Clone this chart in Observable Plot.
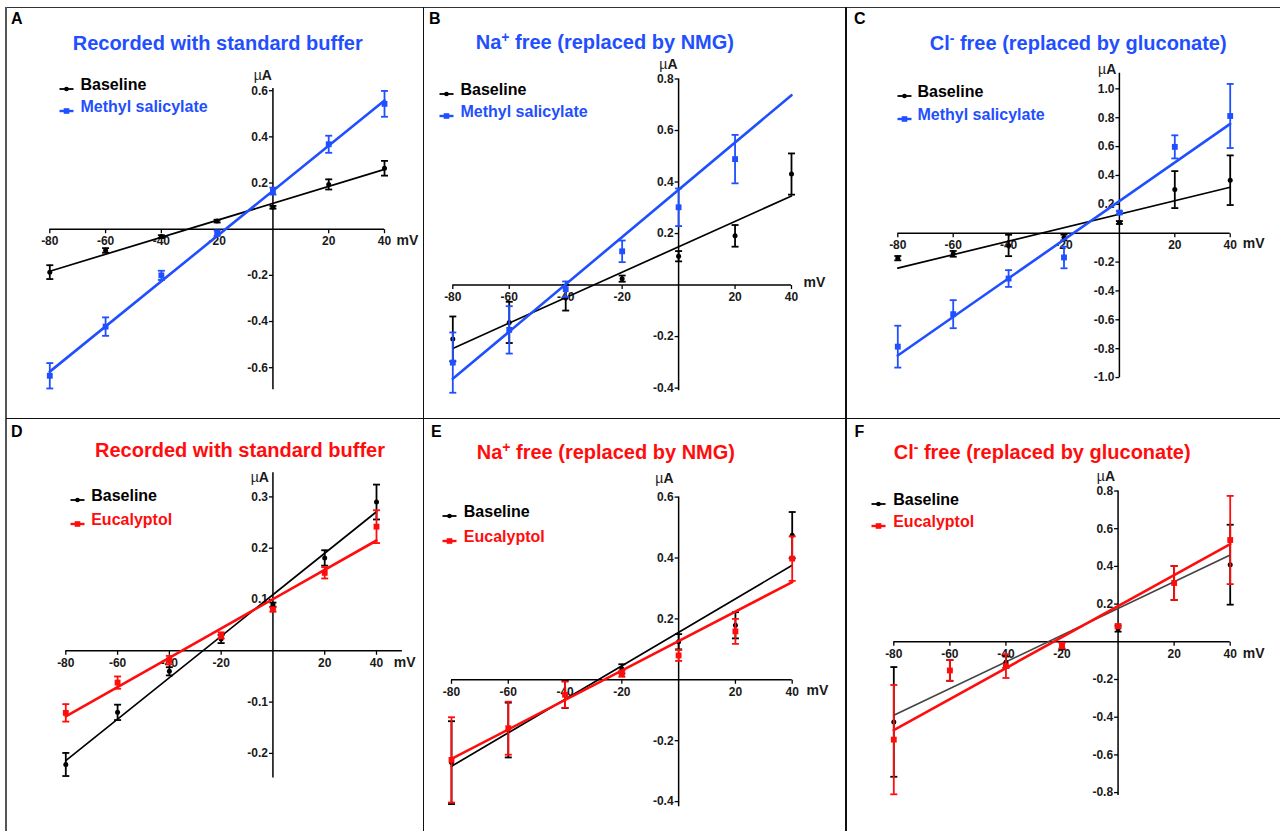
<!DOCTYPE html>
<html><head><meta charset="utf-8">
<script src="https://cdn.jsdelivr.net/npm/d3@7"></script>
<script src="https://cdn.jsdelivr.net/npm/@observablehq/plot@0.6"></script>
<style>
body{margin:0;background:#fff;}
#fig{position:relative;width:1280px;height:831px;overflow:hidden;font-family:"Liberation Sans",Arial,Helvetica,sans-serif;background:#fff;}
.abs{position:absolute;}
.title{font-size:20px;font-weight:bold;line-height:1;white-space:nowrap;transform:translateY(-50%);}
.title sup{font-size:70%;vertical-align:0.5em;line-height:0;}
.letter{font-size:16px;font-weight:bold;line-height:1;transform:translateY(-50%);color:#000;}
.leg{font-size:16px;font-weight:bold;line-height:1;white-space:nowrap;transform:translateY(-50%);}
.panel svg{display:block;}
</style></head><body><div id="fig"></div><script>
// ---------------- data ----------------
const voltages = [-80, -60, -40, -20, 0, 20, 40];
const fitVoltages = [-80, 40];
const xTickValues = [-80, -60, -40, -20, 20, 40];
const seriesNames = ["Baseline", "Methyl salicylate", "Eucalyptol"];
const panelLetters = ["A", "B", "C", "D", "E", "F"];
const panelTitles = [
  "Recorded with standard buffer",
  "Na<sup>+</sup> free (replaced by NMG)",
  "Cl<sup>-</sup> free (replaced by gluconate)",
  "Recorded with standard buffer",
  "Na<sup>+</sup> free (replaced by NMG)",
  "Cl<sup>-</sup> free (replaced by gluconate)"
];

// Panel A
const aBaselineMean = [-0.186, -0.092, -0.032, 0.035, 0.095, 0.194, 0.264];
const aBaselineSem  = [0.030, 0.010, 0.006, 0.006, 0.006, 0.022, 0.032];
const aBaselineFit  = [-0.182, 0.259];
const aMethylMean   = [-0.635, -0.422, -0.200, -0.017, 0.165, 0.368, 0.543];
const aMethylSem    = [0.055, 0.040, 0.020, 0.012, 0.015, 0.037, 0.056];
const aMethylFit    = [-0.617, 0.558];
const aYTicks = [-0.6, -0.4, -0.2, 0.2, 0.4, 0.6];

// Panel B
const bBaselineMean = [-0.209, -0.145, -0.049, 0.025, 0.112, 0.191, 0.431];
const bBaselineSem  = [0.087, 0.080, 0.050, 0.012, 0.020, 0.042, 0.080];
const bBaselineFit  = [-0.246, 0.346];
const bMethylMean   = [-0.301, -0.174, -0.016, 0.131, 0.302, 0.489, null];
const bMethylSem    = [0.117, 0.092, 0.030, 0.042, 0.073, 0.094, null];
const bMethylFit    = [-0.364, 0.737];
const bYTicks = [-0.4, -0.2, 0.2, 0.4, 0.6, 0.8];

// Panel C
const cBaselineMean = [-0.173, -0.143, -0.085, -0.030, 0.074, 0.302, 0.367];
const cBaselineSem  = [0.015, 0.020, 0.074, 0.020, 0.010, 0.128, 0.172];
const cBaselineFit  = [-0.242, 0.318];
const cMethylMean   = [-0.786, -0.561, -0.314, -0.168, 0.143, 0.598, 0.812];
const cMethylSem    = [0.145, 0.097, 0.058, 0.075, 0.010, 0.080, 0.222];
const cMethylFit    = [-0.847, 0.757];
const cYTicks = [-1.0, -0.8, -0.6, -0.4, -0.2, 0.2, 0.4, 0.6, 0.8, 1.0];

// Panel D
const dBaselineMean = [-0.2216, -0.120, -0.040, 0.023, 0.090, 0.181, 0.290];
const dBaselineSem  = [0.0225, 0.015, 0.008, 0.008, 0.004, 0.015, 0.034];
const dBaselineFit  = [-0.214, 0.271];
const dEucalMean    = [-0.121, -0.062, -0.018, 0.030, 0.0805, 0.152, 0.242];
const dEucalSem     = [0.017, 0.012, 0.008, 0.006, 0.004, 0.011, 0.032];
const dEucalFit     = [-0.128, 0.215];
const dYTicks = [-0.2, -0.1, 0.1, 0.2, 0.3];

// Panel E
const eBaselineMean = [-0.272, -0.165, -0.048, 0.036, 0.125, 0.179, 0.475];
const eBaselineSem  = [0.136, 0.090, 0.045, 0.015, 0.025, 0.043, 0.076];
const eBaselineFit  = [-0.284, 0.376];
const eEucalMean    = [-0.263, -0.159, -0.049, 0.020, 0.080, 0.159, 0.398];
const eEucalSem     = [0.140, 0.087, 0.043, 0.010, 0.018, 0.041, 0.073];
const eEucalFit     = [-0.260, 0.321];
const eYTicks = [-0.4, -0.2, 0.2, 0.4, 0.6];

// Panel F
const fBaselineMean = [-0.425, -0.152, -0.108, -0.020, 0.069, 0.312, 0.409];
const fBaselineSem  = [0.291, 0.055, 0.030, 0.020, 0.015, 0.090, 0.212];
const fBaselineFit  = [-0.390, 0.460];
const fEucalMean    = [-0.519, -0.152, -0.129, -0.020, 0.083, 0.312, 0.540];
const fEucalSem     = [0.290, 0.055, 0.063, 0.015, 0.010, 0.090, 0.234];
const fEucalFit     = [-0.468, 0.518];
const fYTicks = [-0.8, -0.6, -0.4, -0.2, 0.2, 0.4, 0.6, 0.8];

// ---------------- styles / layout ----------------
const BLUE = "#1f4fff", RED = "#ff0d0d", BLACK = "#000";
const FONT = "'Liberation Sans', Arial, Helvetica, sans-serif";

const panels = [
  {letter: 0, title: 0, left: 6, top: 7, width: 420, height: 410, mL: 43.3, mR: 42, mT: 83.2, mB: 49.8,
   yDomain: [-0.6, 0.6], yAxis: [-0.695, 0.61], xEnd: 40, yTicks: aYTicks,
   base: [aBaselineMean, aBaselineSem, aBaselineFit], treat: [aMethylMean, aMethylSem, aMethylFit], treatName: 1, color: BLUE, baseLine: BLACK,
   titleX: 72.7, titleY: 42.7, letterX: 11, letterY: 18.8, legX: 59, legTextX: 80.5, legY: [85, 106.7],
   mV: [12, 11], unit: [-1, -13]},
  {letter: 1, title: 1, left: 424, top: 7, width: 420, height: 410, mL: 28.3, mR: 53, mT: 71.5, mB: 29.4,
   yDomain: [-0.4, 0.8], yAxis: [-0.41, 0.8], xEnd: 40, yTicks: bYTicks,
   base: [bBaselineMean, bBaselineSem, bBaselineFit], treat: [bMethylMean, bMethylSem, bMethylFit], treatName: 1, color: BLUE, baseLine: BLACK,
   titleX: 475.7, titleY: 41.7, letterX: 429, letterY: 18.5, legX: 439, legTextX: 460.5, legY: [90, 112.3],
   mV: [12, -2.7], unit: [-1, -14.4]},
  {letter: 2, title: 2, left: 847, top: 7, width: 433, height: 410, mL: 50.3, mR: 50.3, mT: 81.35, mB: 39.95,
   yDomain: [-1, 1], yAxis: [-1.0, 1.108], xEnd: 40, yTicks: cYTicks,
   base: [cBaselineMean, cBaselineSem, cBaselineFit], treat: [cMethylMean, cMethylSem, cMethylFit], treatName: 1, color: BLUE, baseLine: BLACK,
   titleX: 929.7, titleY: 43.3, letterX: 854, letterY: 19, legX: 897, legTextX: 917.5, legY: [92.3, 115.3],
   mV: [12.6, 10.6], unit: [-3, -3.4]},
  {letter: 3, title: 3, left: 6, top: 419, width: 420, height: 410, mL: 59.3, mR: 50, mT: 77.4, mB: 76.1,
   yDomain: [-0.2, 0.3], yAxis: [-0.248, 0.347], xEnd: 50, yTicks: dYTicks,
   base: [dBaselineMean, dBaselineSem, dBaselineFit], treat: [dEucalMean, dEucalSem, dEucalFit], treatName: 2, color: RED, baseLine: BLACK,
   titleX: 95, titleY: 450, letterX: 11, letterY: 432.3, legX: 70, legTextX: 91.2, legY: [496, 520.3],
   mV: [17.3, 12], unit: [-4, 4.4]},
  {letter: 4, title: 4, left: 424, top: 419, width: 420, height: 410, mL: 27, mR: 52.3, mT: 77.6, mB: 27.9,
   yDomain: [-0.4, 0.6], yAxis: [-0.417, 0.6], xEnd: 40, yTicks: eYTicks,
   base: [eBaselineMean, eBaselineSem, eBaselineFit], treat: [eEucalMean, eEucalSem, eEucalFit], treatName: 2, color: RED, baseLine: BLACK,
   titleX: 476.7, titleY: 452.3, letterX: 431, letterY: 432.3, legX: 442.3, legTextX: 463.8, legY: [512, 537],
   mV: [14.3, 10.7], unit: [-5, -18.3]},
  {letter: 5, title: 5, left: 847, top: 419, width: 433, height: 410, mL: 46.3, mR: 50.3, mT: 71.5, mB: 36.9,
   yDomain: [-0.8, 0.8], yAxis: [-0.815, 0.8], xEnd: 40, yTicks: fYTicks,
   base: [fBaselineMean, fBaselineSem, fBaselineFit], treat: [fEucalMean, fEucalSem, fEucalFit], treatName: 2, color: RED, baseLine: "#444",
   titleX: 893.7, titleY: 452.3, letterX: 854.5, letterY: 432, legX: 871.3, legTextX: 893.2, legY: [500.3, 521.7],
   mV: [12.6, 11.3], unit: [-3, -14.7]}
];

// custom line symbols
const tickDown = {draw(ctx) { ctx.moveTo(0, 0); ctx.lineTo(0, 4); }};
const tickLeft = {draw(ctx) { ctx.moveTo(0, 0); ctx.lineTo(-4, 0); }};
const capSym = {draw(ctx) { ctx.moveTo(-3.5, 0); ctx.lineTo(3.5, 0); }};

function rows(mean, sem) {
  return voltages.map((v, i) => ({v, m: mean[i], e: sem[i]})).filter(d => d.m != null);
}
function fitRows(fit) { return fitVoltages.map((v, i) => ({v, m: fit[i]})); }

function seriesMarks(mean, sem, fit, color, lineColor, lineWidth, symbol, r) {
  const data = rows(mean, sem);
  return [
    Plot.line(fitRows(fit), {x: "v", y: "m", stroke: lineColor, strokeWidth: lineWidth}),
    Plot.ruleX(data, {x: "v", y1: d => d.m - d.e, y2: d => d.m + d.e, stroke: color, strokeWidth: 1.8}),
    Plot.dot(data, {x: "v", y: d => d.m + d.e, symbol: capSym, stroke: color, fill: "none", strokeWidth: 1.8}),
    Plot.dot(data, {x: "v", y: d => d.m - d.e, symbol: capSym, stroke: color, fill: "none", strokeWidth: 1.8}),
    Plot.dot(data, {x: "v", y: "m", symbol, r, fill: color, stroke: "none"})
  ];
}

const fig = document.getElementById("fig");
function addDiv(cls, style, html) {
  const d = document.createElement("div");
  d.className = cls;
  Object.assign(d.style, style);
  if (html != null) d.innerHTML = html;
  fig.appendChild(d);
  return d;
}

for (const p of panels) {
  const chart = Plot.plot({
    width: p.width, height: p.height,
    marginLeft: p.mL, marginRight: p.mR, marginTop: p.mT, marginBottom: p.mB,
    x: {domain: [-80, 40], axis: null},
    y: {domain: p.yDomain, axis: null},
    style: {fontFamily: FONT, overflow: "visible", background: "transparent"},
    marks: [
      Plot.ruleY([0], {x1: -80, x2: p.xEnd, stroke: "#000", strokeWidth: 1.5}),
      Plot.ruleX([0], {y1: p.yAxis[0], y2: p.yAxis[1], stroke: "#000", strokeWidth: 1.5}),
      Plot.dot(xTickValues, {x: d => d, y: 0, symbol: tickDown, stroke: "#000", fill: "none", strokeWidth: 1.3}),
      Plot.dot(p.yTicks, {x: 0, y: d => d, symbol: tickLeft, stroke: "#000", fill: "none", strokeWidth: 1.3}),
      Plot.text(xTickValues, {x: d => d, y: 0, text: d => String(d), dy: 12, fontSize: 12, fontWeight: "bold", fill: "#1a1a1a"}),
      Plot.text(p.yTicks, {x: 0, y: d => d, text: d => d.toFixed(1), dx: -5, textAnchor: "end", fontSize: 12, fontWeight: "bold", fill: "#1a1a1a"}),
      Plot.text(["mV"], {x: 40, y: 0, text: d => d, dx: p.mV[0], dy: p.mV[1], textAnchor: "start", fontSize: 14, fontWeight: "bold", fill: "#1a1a1a"}),
      Plot.text(["A"], {x: 0, y: p.yAxis[1], text: d => d, dx: p.unit[0], dy: p.unit[1], textAnchor: "end", fontSize: 14, fontWeight: "bold", fill: "#1a1a1a"}),
      Plot.text(["\u00b5"], {x: 0, y: p.yAxis[1], text: d => d, dx: p.unit[0] - 10.2, dy: p.unit[1], textAnchor: "end", fontSize: 14, fill: "#1a1a1a"}),
      ...seriesMarks(p.base[0], p.base[1], p.base[2], BLACK, p.baseLine, 1.7, "circle", 2.5),
      ...seriesMarks(p.treat[0], p.treat[1], p.treat[2], p.color, p.color, 2.6, "square", 3.3)
    ]
  });
  const holder = addDiv("abs panel", {left: p.left + "px", top: p.top + "px", width: p.width + "px", height: p.height + "px"});
  holder.appendChild(chart);

  addDiv("abs title", {left: p.titleX + "px", top: p.titleY + "px", color: p.color}, panelTitles[p.title]);
  addDiv("abs letter", {left: p.letterX + "px", top: p.letterY + "px"}, panelLetters[p.letter]);

  const legend = [[seriesNames[0], BLACK, "circle"], [seriesNames[p.treatName], p.color, "square"]];
  legend.forEach(([name, col, shape], i) => {
    const y = p.legY[i];
    const sw = addDiv("abs", {left: p.legX + "px", top: (y - 5) + "px", width: "16px", height: "10px"});
    const marker = shape === "circle"
      ? `<circle cx="7.5" cy="5" r="2.3" fill="${col}"/>`
      : `<rect x="4.7" y="2.2" width="5.6" height="5.6" fill="${col}"/>`;
    sw.innerHTML = `<svg width="16" height="10"><line x1="0.5" y1="5" x2="14.5" y2="5" stroke="${col}" stroke-width="${shape === "circle" ? 1.8 : 2.4}"/>${marker}</svg>`;
    addDiv("abs leg", {left: p.legTextX + "px", top: y + "px", color: col}, name);
  });
}

// frame lines between panels
addDiv("abs", {left: "6px", top: "6.5px", width: "1274px", height: "1.5px", background: "#333"});
addDiv("abs", {left: "5px", top: "7px", width: "2px", height: "824px", background: "#555"});
addDiv("abs", {left: "422.8px", top: "7px", width: "1.5px", height: "824px", background: "#111"});
addDiv("abs", {left: "845.2px", top: "7px", width: "1.5px", height: "824px", background: "#111"});
addDiv("abs", {left: "6px", top: "417.6px", width: "1274px", height: "1.5px", background: "#111"});
</script></body></html>
